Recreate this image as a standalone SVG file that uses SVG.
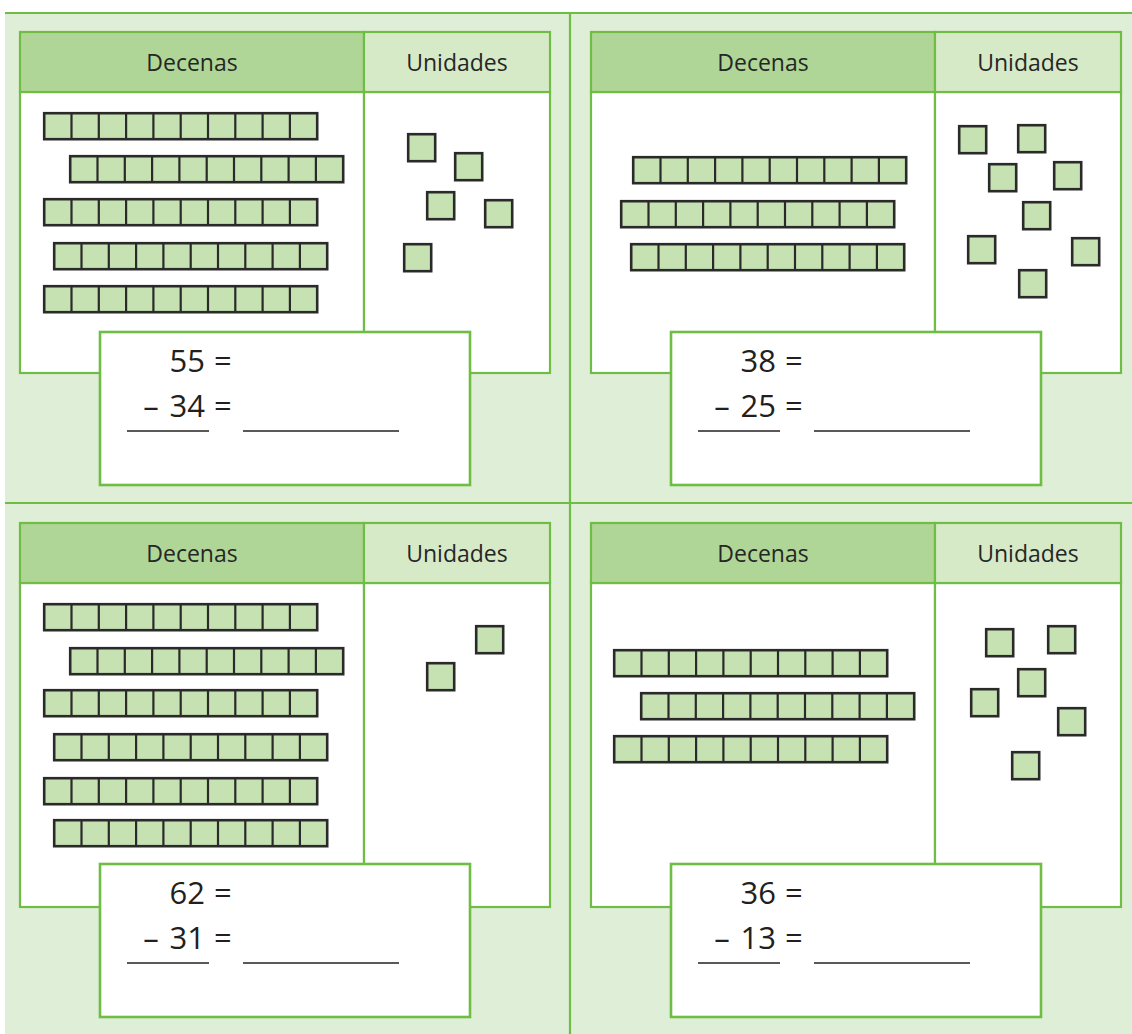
<svg xmlns="http://www.w3.org/2000/svg" xmlns:xlink="http://www.w3.org/1999/xlink" width="1132" height="1034" viewBox="0 0 1132 1034">
<style>
.frame{stroke:#6fbd45;stroke-width:2.2;fill:none}
.hd{fill:#afd696;stroke:#6fbd45;stroke-width:2.2}
.hu{fill:#d7eac8;stroke:#6fbd45;stroke-width:2.2}
.body{fill:#ffffff;stroke:#6fbd45;stroke-width:2.2}
.box{fill:#ffffff;stroke:#6fbd45;stroke-width:2.6}
.cube{fill:#c7e2b2;stroke:#2a2a2a;stroke-width:2.6}
.div{stroke:#2a2a2a;stroke-width:2.2}
.ht{font-family:"Open Sans","Noto Sans",sans-serif;font-size:23px;font-weight:500;fill:#262626;text-anchor:middle}
.eq{font-family:"Open Sans","Noto Sans",sans-serif;font-size:31px;fill:#231f20}
.ln{stroke:#222222;stroke-width:1.7}
</style>
<defs>
<g id="rod">
<rect class="cube" x="0" y="0" width="273" height="26"/>
<path class="div" d="M27.3 0V26M54.6 0V26M81.9 0V26M109.2 0V26M136.5 0V26M163.8 0V26M191.1 0V26M218.4 0V26M245.7 0V26"/>
</g>
<rect id="cube" class="cube" x="0" y="0" width="27" height="27"/>
<g id="table">
<rect class="body" x="20" y="92" width="344" height="281"/>
<rect class="body" x="364" y="92" width="186" height="281"/>
<rect class="hd" x="20" y="32" width="344" height="60"/>
<rect class="hu" x="364" y="32" width="186" height="60"/>
<text class="ht" x="192" y="71">Decenas</text>
<text class="ht" x="457" y="71">Unidades</text>
</g>
<g id="tableTall">
<rect class="body" x="20" y="92" width="344" height="324"/>
<rect class="body" x="364" y="92" width="186" height="324"/>
<rect class="hd" x="20" y="32" width="344" height="60"/>
<rect class="hu" x="364" y="32" width="186" height="60"/>
<text class="ht" x="192" y="71">Decenas</text>
<text class="ht" x="457" y="71">Unidades</text>
</g>
</defs>
<rect x="0" y="0" width="1132" height="1034" fill="#ffffff"/>
<rect x="5" y="13" width="1127" height="1021" fill="#dfeed6"/>
<g id="grid" class="frame">
<line x1="5" y1="13" x2="1132" y2="13"/>
<line x1="5" y1="503" x2="1132" y2="503"/>
<line x1="570" y1="13" x2="570" y2="1034"/>
</g>

<g id="panel-top-left">
<use xlink:href="#table"/>
<use xlink:href="#rod" x="44.2" y="113.2"/>
<use xlink:href="#rod" x="70.2" y="156.2"/>
<use xlink:href="#rod" x="44.2" y="199.2"/>
<use xlink:href="#rod" x="54.2" y="243.2"/>
<use xlink:href="#rod" x="44.2" y="286.2"/>
<use xlink:href="#cube" x="408.2" y="134.2"/>
<use xlink:href="#cube" x="455.2" y="153.2"/>
<use xlink:href="#cube" x="427.2" y="192.2"/>
<use xlink:href="#cube" x="485.2" y="200.2"/>
<use xlink:href="#cube" x="404.2" y="244.2"/>
<rect class="box" x="100" y="332" width="370" height="153"/>
<text class="eq" x="205" y="372" text-anchor="end">55</text>
<text class="eq" x="214" y="372">=</text>
<text class="eq" x="151" y="417" text-anchor="middle">–</text>
<text class="eq" x="205" y="417" text-anchor="end">34</text>
<text class="eq" x="214" y="417">=</text>
<line class="ln" x1="127" y1="431" x2="209" y2="431"/>
<line class="ln" x1="243" y1="431" x2="399" y2="431"/>
</g>

<g id="panel-top-right">
<use xlink:href="#table" x="571"/>
<use xlink:href="#rod" x="633.2" y="157.2"/>
<use xlink:href="#rod" x="621.2" y="201.2"/>
<use xlink:href="#rod" x="631.2" y="244.2"/>
<use xlink:href="#cube" x="959.2" y="126.2"/>
<use xlink:href="#cube" x="1018.2" y="125.2"/>
<use xlink:href="#cube" x="989.2" y="164.2"/>
<use xlink:href="#cube" x="1054.2" y="162.2"/>
<use xlink:href="#cube" x="1023.2" y="202.2"/>
<use xlink:href="#cube" x="968.2" y="236.2"/>
<use xlink:href="#cube" x="1072.2" y="238.2"/>
<use xlink:href="#cube" x="1019.2" y="270.2"/>
<rect class="box" x="671" y="332" width="370" height="153"/>
<text class="eq" x="776" y="372" text-anchor="end">38</text>
<text class="eq" x="785" y="372">=</text>
<text class="eq" x="722" y="417" text-anchor="middle">–</text>
<text class="eq" x="776" y="417" text-anchor="end">25</text>
<text class="eq" x="785" y="417">=</text>
<line class="ln" x1="698" y1="431" x2="780" y2="431"/>
<line class="ln" x1="814" y1="431" x2="970" y2="431"/>
</g>

<g id="panel-bottom-left">
<use xlink:href="#tableTall" y="491"/>
<use xlink:href="#rod" x="44.2" y="604.2"/>
<use xlink:href="#rod" x="70.2" y="648.2"/>
<use xlink:href="#rod" x="44.2" y="690.2"/>
<use xlink:href="#rod" x="54.2" y="734.2"/>
<use xlink:href="#rod" x="44.2" y="778.2"/>
<use xlink:href="#rod" x="54.2" y="820.2"/>
<use xlink:href="#cube" x="476.2" y="626.2"/>
<use xlink:href="#cube" x="427.2" y="663.2"/>
<rect class="box" x="100" y="864" width="370" height="153"/>
<text class="eq" x="205" y="904" text-anchor="end">62</text>
<text class="eq" x="214" y="904">=</text>
<text class="eq" x="151" y="949" text-anchor="middle">–</text>
<text class="eq" x="205" y="949" text-anchor="end">31</text>
<text class="eq" x="214" y="949">=</text>
<line class="ln" x1="127" y1="963" x2="209" y2="963"/>
<line class="ln" x1="243" y1="963" x2="399" y2="963"/>
</g>

<g id="panel-bottom-right">
<use xlink:href="#tableTall" x="571" y="491"/>
<use xlink:href="#rod" x="614.2" y="650.2"/>
<use xlink:href="#rod" x="641.2" y="693.2"/>
<use xlink:href="#rod" x="614.2" y="736.2"/>
<use xlink:href="#cube" x="986.2" y="629.2"/>
<use xlink:href="#cube" x="1048.2" y="626.2"/>
<use xlink:href="#cube" x="1018.2" y="669.2"/>
<use xlink:href="#cube" x="971.2" y="689.2"/>
<use xlink:href="#cube" x="1058.2" y="708.2"/>
<use xlink:href="#cube" x="1012.2" y="752.2"/>
<rect class="box" x="671" y="864" width="370" height="153"/>
<text class="eq" x="776" y="904" text-anchor="end">36</text>
<text class="eq" x="785" y="904">=</text>
<text class="eq" x="722" y="949" text-anchor="middle">–</text>
<text class="eq" x="776" y="949" text-anchor="end">13</text>
<text class="eq" x="785" y="949">=</text>
<line class="ln" x1="698" y1="963" x2="780" y2="963"/>
<line class="ln" x1="814" y1="963" x2="970" y2="963"/>
</g>
</svg>
